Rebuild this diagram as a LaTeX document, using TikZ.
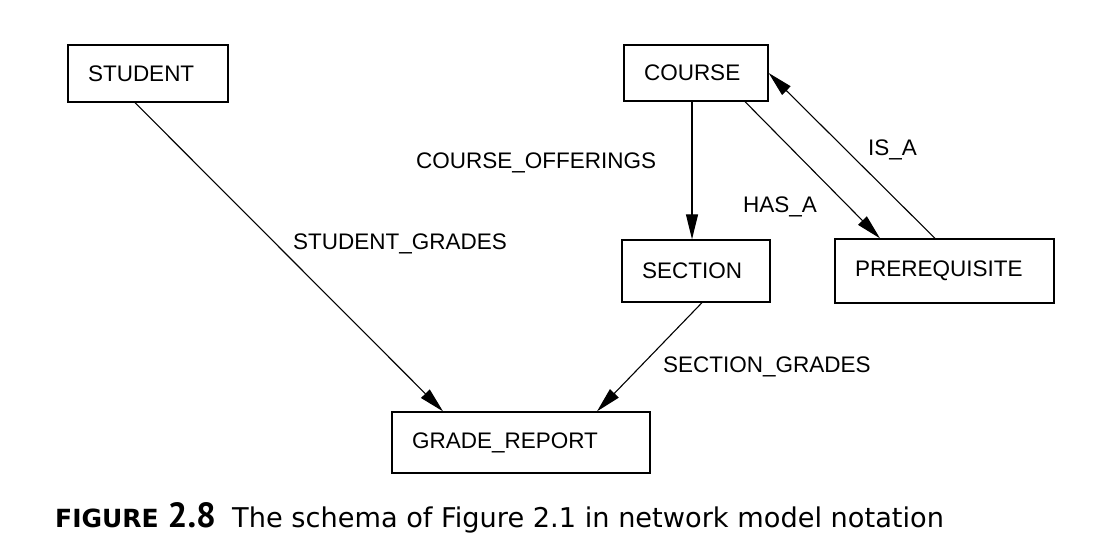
\documentclass[tikz,border=0pt]{standalone}
\usepackage{fontspec}
\setmainfont{Liberation Sans}
\newfontfamily\capfont{DejaVu Sans}
\newfontfamily\numfont{PT Sans}
\usetikzlibrary{arrows.meta}

\begin{document}
\begin{tikzpicture}[x=1pt, y=-1pt,
    every node/.style={font=\fontsize{22.5}{27}\selectfont},
    record/.style={draw, line width=1.3pt, inner xsep=20pt, inner ysep=0pt, align=left},
    link/.style={line width=1.1pt, -{Triangle[length=25pt,width=12pt]}},
    linklabel/.style={anchor=base west, inner sep=0pt}]
    \useasboundingbox (0,0) rectangle (1102,540);

    % Nodes
    \node[record, text width=120pt, minimum height=57pt] (student) at (148,73.5) {STUDENT};
    \node[record, text width=104pt, minimum height=56pt] (course) at (696,73) {COURSE};
    \node[record, text width=108pt, minimum height=62pt] (section) at (696,271) {SECTION};
    \node[record, text width=179pt, minimum height=64pt] (prereq) at (944.5,271) {PREREQUISITE};
    \node[record, text width=218pt, minimum height=61pt] (report) at (521,442.5) {GRADE\_REPORT};

    % Labels
    \node[linklabel] (studentgrades) at (293,249) {STUDENT\_GRADES};
    \node[linklabel] (offerings) at (416,168) {COURSE\_OFFERINGS};
    \node[linklabel] (hasa) at (743,212) {HAS\_A};
    \node[linklabel] (isa) at (868,156) {IS\_A};
    \node[linklabel] (sectiongrades) at (663,372) {SECTION\_GRADES};

    % Edges
    \draw[link] ([xshift=-13pt]student.south) -- ([xshift=-78pt]report.north);
    \draw[link] ([xshift=-4pt]course.south) -- ([xshift=-4pt]section.north);
    \draw[link] ([xshift=49pt]course.south) -- ([xshift=-64.5pt]prereq.north);
    \draw[link] ([xshift=-9.5pt]prereq.north) -- (course.east);
    \draw[link] ([xshift=6pt]section.south) -- ([xshift=76pt]report.north);

    % Caption
    \node[linklabel, font=\capfont\bfseries\fontsize{25}{30}\selectfont] (fignum) at (55,527)
        {FIGURE\hspace{9pt}{\numfont\bfseries\fontsize{35}{40}\selectfont 2.8}};
    \node[linklabel, font=\capfont\fontsize{27.2}{32}\selectfont] (caption) at (232,527)
        {The schema of Figure 2.1 in network model notation};
\end{tikzpicture}
\end{document}
